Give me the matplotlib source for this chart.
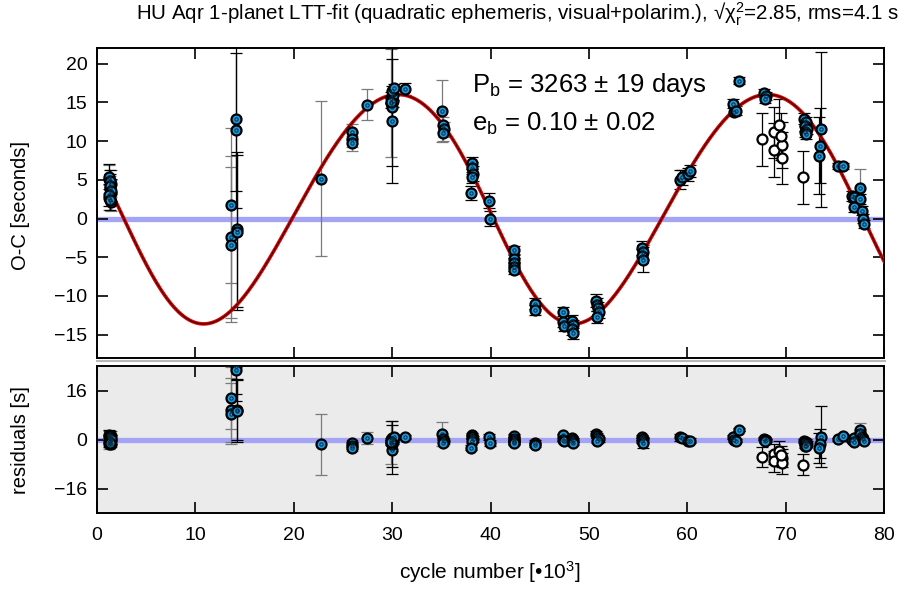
import numpy as np
import matplotlib
matplotlib.use("Agg")
import matplotlib.pyplot as plt
from matplotlib.lines import Line2D

plt.rcParams["font.family"] = ["Liberation Sans", "DejaVu Sans"]
plt.rcParams["mathtext.fontset"] = "custom"
plt.rcParams["mathtext.rm"] = "Liberation Sans"
plt.rcParams["mathtext.it"] = "Liberation Sans:italic"
plt.rcParams["mathtext.default"] = "regular"

# ---- fit parameters -------------------------------------------------------
P_DAYS = 3263.0        # planet period [d]
P_ERR = 19
E_B = 0.10             # eccentricity
E_ERR = 0.02
P_BIN = 0.08682045     # binary period [d]
K_LTT = 14.85          # LTT semi-amplitude [s]
OMEGA_DEG = 216.9      # argument of periastron
X_PERI = 43.37         # periastron epoch [10^3 cycles]
OC_OFFSET = 1.2        # [s]
CHI_R = 2.85
RMS = 4.1

# ---- O-C timings: blue symbols, black error bars ---------------------------
cyc_k = [1.25, 1.35, 1.30, 1.40, 1.25, 1.35,
         14.15, 14.15, 14.20, 14.25,
         29.95, 30.00, 30.05, 29.90, 30.10, 30.00, 30.15, 29.85,
         31.35,
         38.10, 38.15, 38.20, 38.10, 38.05,
         39.80, 39.90,
         42.35, 42.40, 42.35, 42.40, 42.35,
         44.50, 44.55,
         47.35, 47.40, 47.45, 48.30, 48.35, 48.30, 48.35,
         50.70, 50.80, 50.90, 51.00, 50.85,
         55.40, 55.50, 55.45, 55.55,
         59.30, 59.50, 60.10, 60.30,
         64.70, 64.80, 65.00, 65.30,
         67.80, 68.00, 67.90,
         71.90, 72.10, 72.00, 72.20, 72.00, 72.10,
         73.55, 73.45, 73.40,
         75.30, 75.80,
         76.70, 77.00, 77.60, 77.00, 77.80, 77.90, 78.00]
oc_k = [5.4, 4.8, 4.2, 3.6, 3.0, 2.4,
        12.9, 11.4, -1.4, -1.8,
        12.6, 14.4, 15.2, 15.6, 16.0, 16.4, 16.8, 15.0,
        16.7,
        7.2, 6.5, 5.8, 5.3, 3.3,
        2.3, 0.0,
        -4.1, -5.2, -5.7, -6.2, -6.6,
        -11.0, -11.8,
        -12.0, -13.4, -13.9, -13.2, -13.8, -14.3, -14.8,
        -10.6, -11.1, -11.6, -12.1, -12.7,
        -3.8, -4.3, -4.8, -5.3,
        5.0, 5.3, 5.7, 6.1,
        14.8, 13.8, 13.9, 17.8,
        16.2, 15.8, 15.4,
        12.9, 12.4, 12.0, 11.6, 11.2, 10.9,
        11.5, 9.4, 8.1,
        6.8, 6.8,
        2.9, 2.8, 2.5, 1.5, 1.0, 0.0, -0.7]
err_k = [1.6, 1.5, 1.6, 1.5, 1.4, 1.3,
         9.3, 10.0, 10.0, 10.0,
         8.0, 7.6, 0.8, 0.7, 0.7, 0.7, 0.6, 0.8,
         0.75,
         0.8, 0.8, 1.0, 0.7, 0.85,
         1.0, 1.0,
         0.6, 0.6, 0.6, 0.6, 0.6,
         0.7, 0.7,
         0.6, 0.6, 0.6, 0.7, 0.7, 0.7, 0.7,
         0.8, 0.8, 0.8, 0.8, 0.8,
         0.9, 0.9, 0.9, 1.6,
         1.2, 1.0, 0.8, 0.8,
         0.6, 0.6, 0.6, 0.4,
         0.5, 0.5, 0.5,
         0.7, 0.7, 0.7, 0.7, 0.7, 0.7,
         10.0, 4.8, 5.0,
         0.4, 0.4,
         0.6, 0.6, 0.6, 0.6, 0.6, 0.6, 0.5]

# ---- O-C timings: blue symbols, grey error bars ----------------------------
cyc_g = [1.20, 1.45, 1.30, 1.40, 1.20, 1.45,
         13.65, 13.60, 13.65,
         22.80,
         25.90, 25.95, 25.95,
         27.45,
         29.90,
         35.10, 35.20, 35.25, 35.20,
         77.55]
oc_g = [5.1, 4.5, 3.9, 3.3, 2.7, 2.1,
        1.7, -2.4, -3.4,
        5.1,
        11.2, 10.2, 9.7,
        14.7,
        14.9,
        13.9, 12.1, 11.5, 11.0,
        4.0]
err_g = [1.8, 1.7, 1.6, 1.7, 1.6, 1.1,
         10.0, 10.5, 10.0,
         10.0,
         1.0, 1.0, 1.0,
         2.0,
         7.0,
         4.0, 1.0, 1.0, 1.0,
         2.4]

# ---- O-C timings: open symbols ---------------------------------------------
cyc_o = [67.55, 68.85, 69.35, 68.85, 69.60, 69.65, 69.50, 71.80]
oc_o = [10.2, 11.1, 12.1, 8.8, 9.5, 7.8, 10.6, 5.3]
err_o = [3.4, 3.3, 3.3, 3.5, 3.0, 3.4, 3.0, 3.4]


def ltt_model(cyc):
    """Light-travel-time delay of an eccentric orbit, cycles in units of 1e3."""
    cyc = np.asarray(cyc, dtype=float)
    period = P_DAYS / P_BIN / 1e3
    w = np.deg2rad(OMEGA_DEG)
    M = 2 * np.pi * (cyc - X_PERI) / period
    E = M.copy()
    for _ in range(40):
        E = E - (E - E_B * np.sin(E) - M) / (1 - E_B * np.cos(E))
    z = np.sqrt(1 - E_B ** 2) * np.cos(w) * np.sin(E) + np.sin(w) * np.cos(E)
    return K_LTT * z + OC_OFFSET


BLUE = "#1b9be0"
ZERO = "#a4a4f6"
GREY_BAR = "#7a7a7a"


def draw_points(ax, x, y, err, face, bar):
    ax.errorbar(x, y, yerr=err, fmt="none", ecolor=bar, elinewidth=0.9,
                capsize=4.5, capthick=0.9, zorder=3)
    ax.plot(x, y, "o", ms=7.2, mfc=face, mec="black", mew=1.6, zorder=5)
    if face != "white":
        ax.plot(x, y, "o", ms=2.4, mfc="none", mec="#0b2a40", mew=0.7, zorder=6)


fig = plt.figure(figsize=(9.05, 5.9), dpi=100)
W, H = 905.0, 590.0
ax1 = fig.add_axes([97 / W, 1 - 358 / H, (884 - 97) / W, (358 - 48) / H])
ax2 = fig.add_axes([97 / W, 1 - 513 / H, (884 - 97) / W, (513 - 366) / H])

# upper panel: O-C with model
ax1.axhline(0, color=ZERO, lw=3.8, zorder=1)
xm = np.linspace(1.0, 80.0, 900)
ax1.plot(xm, ltt_model(xm), color="#e00000", lw=2.6, zorder=4)
ax1.plot(xm, ltt_model(xm), color="#3a0000", lw=0.9, zorder=4)
draw_points(ax1, cyc_g, oc_g, err_g, BLUE, GREY_BAR)
draw_points(ax1, cyc_k, oc_k, err_k, BLUE, "black")
draw_points(ax1, cyc_o, oc_o, err_o, "white", "black")
ax1.set_xlim(0, 80)
ax1.set_ylim(-18, 22)
ax1.set_yticks(np.arange(-15, 21, 5))
ax1.set_xticks(np.arange(0, 81, 10))
ax1.tick_params(labelbottom=False)

ax1.text(38.1, 17.2, f"P$_{{b}}$ = {P_DAYS:.0f} ± {P_ERR} days",
         fontsize=18.5, va="center")
ax1.text(38.1, 12.2, f"e$_{{b}}$ = {E_B:.2f} ± {E_ERR:.2f}",
         fontsize=18.5, va="center")

# lower panel: residuals
ax2.set_facecolor("#ebebeb")
ax2.axhline(0, color=ZERO, lw=3.8, zorder=1)
for xs, ys, es, face, bar in [(cyc_g, oc_g, err_g, BLUE, GREY_BAR),
                              (cyc_k, oc_k, err_k, BLUE, "black"),
                              (cyc_o, oc_o, err_o, "white", "black")]:
    res = np.asarray(ys) - ltt_model(xs)
    draw_points(ax2, xs, res, es, face, bar)
ax2.set_xlim(0, 80)
ax2.set_ylim(-24, 24)
ax2.set_yticks([-16, 0, 16])
ax2.set_xticks(np.arange(0, 81, 10))

for ax in (ax1, ax2):
    for sp in ax.spines.values():
        sp.set_linewidth(1.4)
    ax.tick_params(direction="in", length=8, width=1.2, top=True, right=True,
                   labelsize=14, colors="black")
    ax.tick_params(axis="y", pad=7)
    ax.tick_params(axis="x", pad=10)

fig.add_artist(Line2D([97 / W, 885 / W], [1 - 361 / H] * 2,
                      color="#b8b8b8", lw=1.5))

fig.text(21 / W, 1 - 205 / H, "O-C [seconds]", rotation=90,
         ha="center", va="center", fontsize=14.5)
fig.text(21 / W, 1 - 440 / H, "residuals [s]", rotation=90,
         ha="center", va="center", fontsize=14.5)
fig.text(490 / W, 1 - 572 / H, "cycle number [•10$^{3}$]",
         ha="center", va="center", fontsize=15)
fig.text(517 / W, 1 - 14 / H,
         f"HU Aqr 1-planet LTT-fit (quadratic ephemeris, visual+polarim.), "
         f"√χ$_{{r}}^{{2}}$={CHI_R:.2f}, rms={RMS} s",
         ha="center", va="center", fontsize=14.8)

fig.savefig("out.png", dpi=100)
